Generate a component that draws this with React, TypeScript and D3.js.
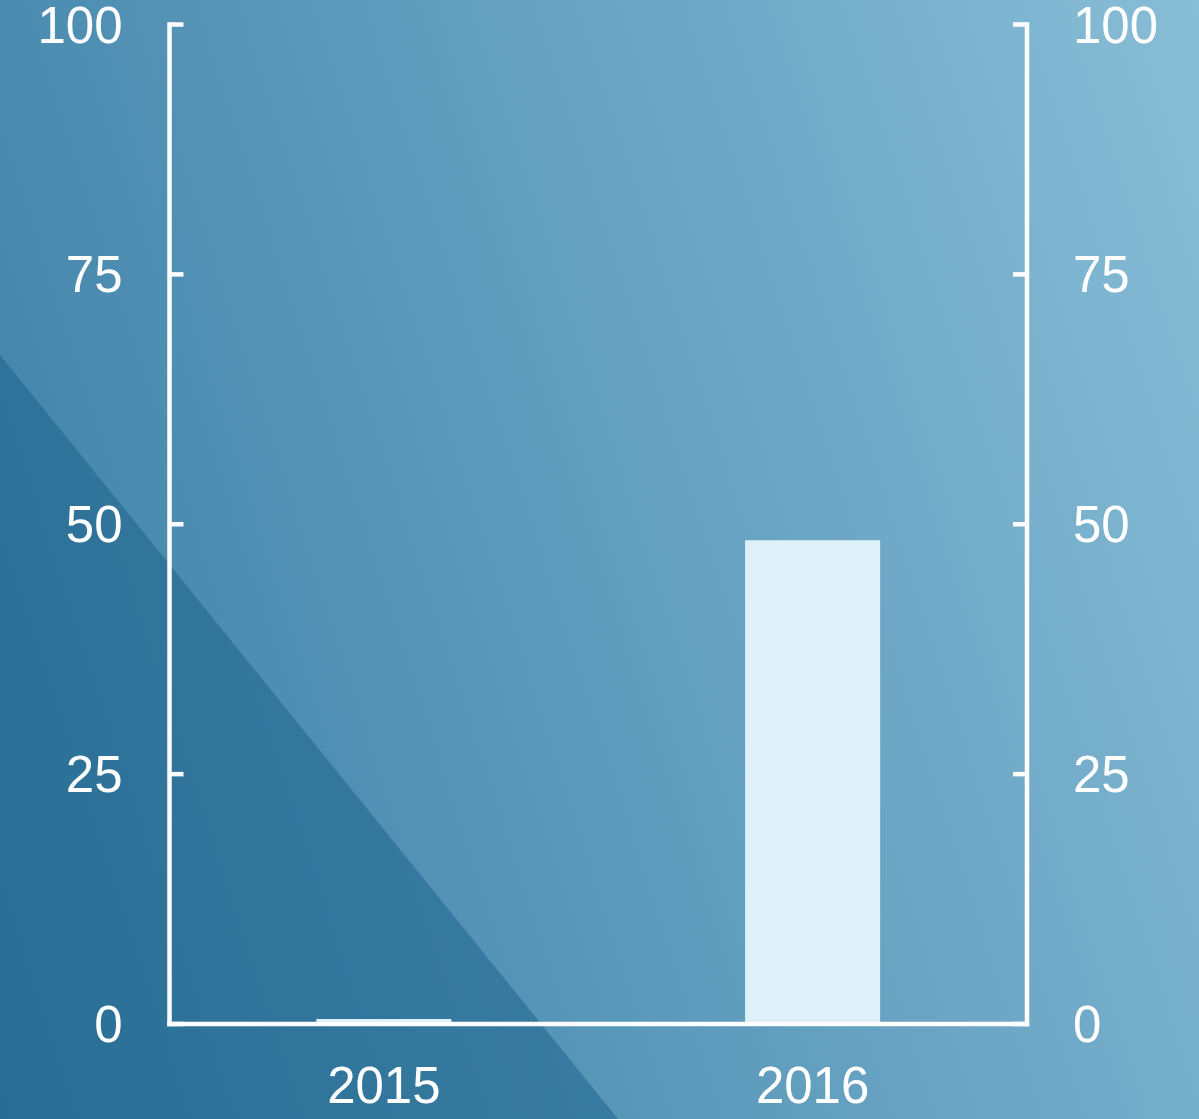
import * as d3 from "d3";
import { useEffect } from "react";

const years = ["2015", "2016"];
const values = [0.5, 48.4];
const yTicks = [0, 25, 50, 75, 100];

const W = 1199;
const H = 1119;
const left = 169.5;
const right = 1027;
const top = 24.5;
const bottom = 1024;

export default function App() {
  useEffect(() => {
    document.body.style.margin = "0";
  }, []);

  const x = d3.scaleBand().domain(years).range([left, right]).padding(0);
  const y = d3.scaleLinear().domain([0, 100]).range([bottom, top]);
  const barW = x.bandwidth() * 0.315;

  const font = "'Liberation Sans', Arial, sans-serif";

  return (
    <svg
      width={W}
      height={H}
      style={{ position: "absolute", left: 0, top: 0, display: "block" }}
    >
      <defs>
        <linearGradient
          id="bg"
          gradientUnits="userSpaceOnUse"
          x1={0}
          y1={H}
          x2={1413}
          y2={663}
        >
          <stop offset="0" stopColor="#397da5" />
          <stop offset="1" stopColor="#88bdd6" />
        </linearGradient>
      </defs>
      <rect width={W} height={H} fill="url(#bg)" />
      {/* darker diagonal wedge bottom-left */}
      <polygon points={`0,355 618,${H} 0,${H}`} fill="#145a82" opacity={0.45} />

      {years.map((yr, i) => (
        <rect
          key={yr}
          x={x(yr)! + x.bandwidth() / 2 - barW / 2}
          y={y(values[i])}
          width={barW}
          height={bottom - y(values[i])}
          fill="#def1f8"
        />
      ))}

      <g stroke="#fff" strokeWidth={4.5} fill="none" strokeLinecap="square">
        <line x1={left} x2={left} y1={top} y2={bottom} />
        <line x1={right} x2={right} y1={top} y2={bottom} />
        <line x1={left} x2={right} y1={bottom} y2={bottom} />
        {yTicks.map((t) => (
          <g key={t}>
            <line x1={left} x2={left + 14} y1={y(t)} y2={y(t)} strokeLinecap="butt" />
            <line x1={right} x2={right - 14} y1={y(t)} y2={y(t)} strokeLinecap="butt" />
          </g>
        ))}
      </g>

      <g fill="#fff" fontFamily={font} fontSize={51}>
        {yTicks.map((t) => (
          <g key={t}>
            <text x={left - 47} y={y(t) + 18} textAnchor="end">
              {t}
            </text>
            <text x={right + 46} y={y(t) + 18} textAnchor="start">
              {t}
            </text>
          </g>
        ))}
        {years.map((yr) => (
          <text
            key={yr}
            x={x(yr)! + x.bandwidth() / 2}
            y={bottom + 79}
            textAnchor="middle"
          >
            {yr}
          </text>
        ))}
      </g>
    </svg>
  );
}
